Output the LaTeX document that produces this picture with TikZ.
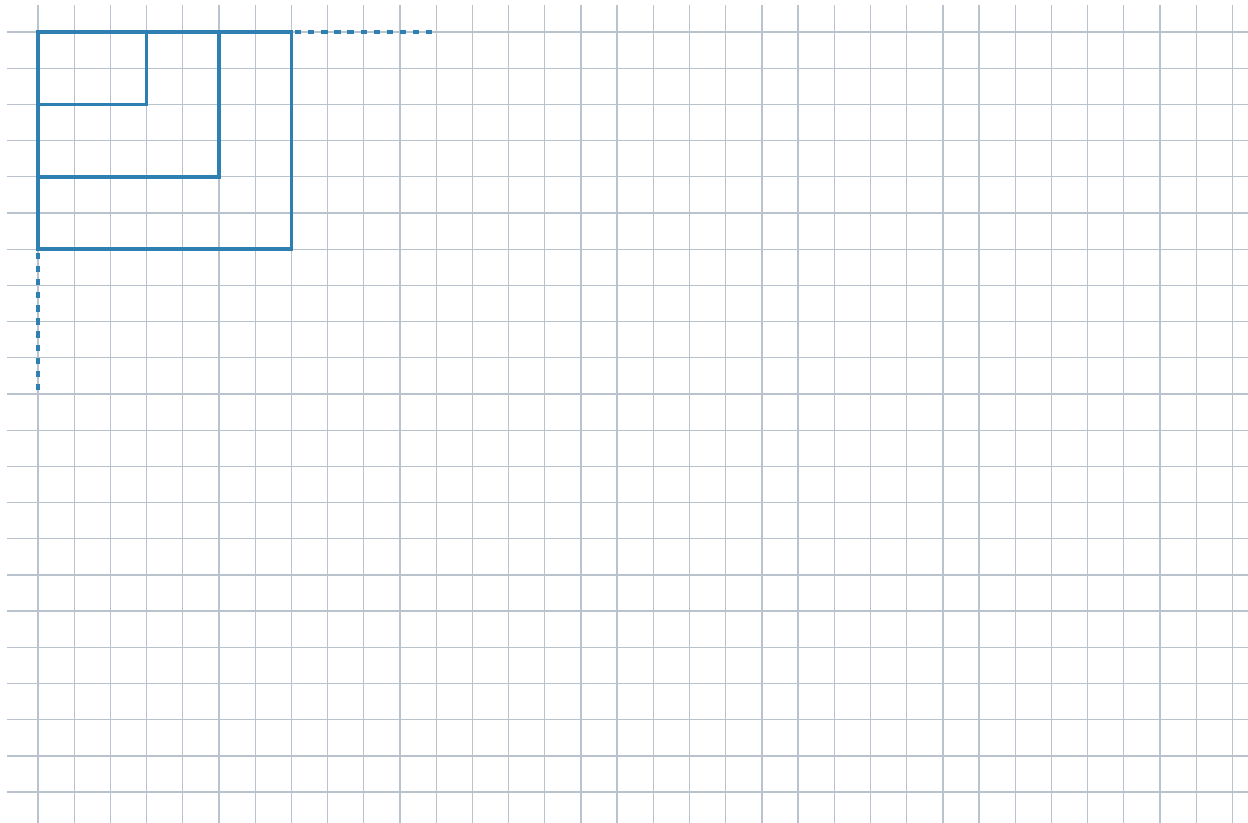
\documentclass[tikz,border=0pt]{standalone}
\usepackage{xcolor}
\definecolor{gridc}{HTML}{B9C3CD}
\definecolor{bluec}{HTML}{2E7FB2}
\tikzset{
  gridline/.style={draw=gridc, line width=1pt},
  sqline/.style={draw=bluec, line width=2.8pt, line join=miter},
  dotline/.style={draw=bluec, line width=2.8pt, dash pattern=on 5pt off 5.3pt}
}
\begin{document}
\begin{tikzpicture}[x=1cm,y=1cm]
\useasboundingbox (-1.05,0.884) rectangle (33.43,-21.85);
\fill[white] (-1.05,0.884) rectangle (33.43,-21.85);
% grid
\foreach \i in {0,...,33} \draw[gridline] (\i,0.746) -- (\i,-21.85);
\foreach \j in {0,...,21} \draw[gridline] (-0.856,-\j) -- (33.43,-\j);
% dotted extensions
\draw[dotline] (7.1,0) -- (11,0);
\draw[dotline] (0,-6.1) -- (0,-10);
% nested rectangles
\draw[sqline] (0,0) rectangle (7,-6);
\draw[sqline] (0,-4) -| (5,0);
\draw[sqline] (0,-2) -| (3,0);
\end{tikzpicture}
\end{document}
